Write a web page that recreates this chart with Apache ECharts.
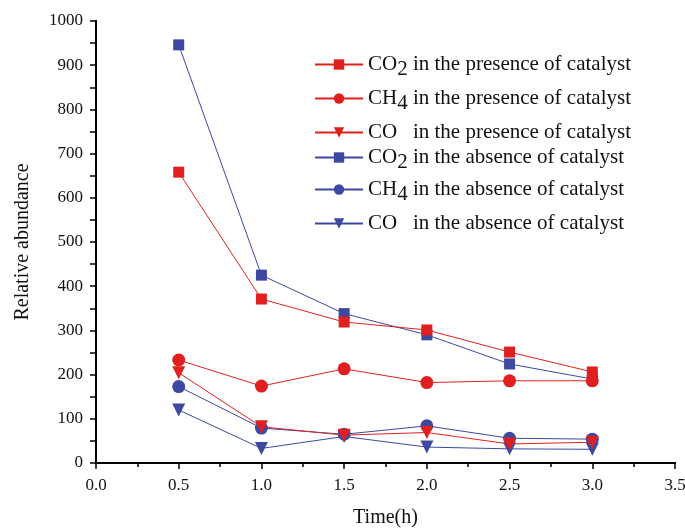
<!DOCTYPE html>
<html><head><meta charset="utf-8">
<script src="https://cdn.jsdelivr.net/npm/echarts@6/dist/echarts.min.js"></script>
<style>html,body{margin:0;padding:0;background:#fff}#c{width:685px;height:528px}</style>
</head><body><div id="c"></div>
<script>
const times = [0.5, 1.0, 1.5, 2.0, 2.5, 3.0];
const co2Present = [658, 371, 319, 301, 251, 206];
const ch4Present = [233, 174, 213, 182, 186, 186];
const coPresent = [204, 82, 63, 69, 43, 47];
const co2Absent = [946, 425, 338, 290, 224, 190];
const ch4Absent = [173, 79, 65, 84, 56, 54];
const coAbsent = [120, 33, 60, 36, 32, 31];
const seriesNames = [
  'CO{s|2} in the presence of catalyst',
  'CH{s|4} in the presence of catalyst',
  'CO   in the presence of catalyst',
  'CO{s|2} in the absence of catalyst',
  'CH{s|4} in the absence of catalyst',
  'CO   in the absence of catalyst'
];
const RED = '#e0201e', BLUE = '#3d48a0';
const FONT = 'Liberation Serif';
const defs = [
  {data: co2Present, color: RED, sym: 'rect', size: 11, rot: 0},
  {data: ch4Present, color: RED, sym: 'circle', size: 13, rot: 0},
  {data: coPresent, color: RED, sym: 'triangle', size: 13, rot: 180},
  {data: co2Absent, color: BLUE, sym: 'rect', size: 11, rot: 0},
  {data: ch4Absent, color: BLUE, sym: 'circle', size: 13, rot: 0},
  {data: coAbsent, color: BLUE, sym: 'triangle', size: 13, rot: 180}
];
const legendY = [49, 83, 117, 142, 174, 208];
const chart = echarts.init(document.getElementById('c'));
const series = defs.map((d, i) => ({
  name: seriesNames[i],
  type: 'line',
  data: times.map((t, j) => [t, d.data[j]]),
  symbol: d.sym, symbolSize: d.size, symbolRotate: d.rot,
  lineStyle: {color: d.color, width: 1},
  itemStyle: {color: d.color},
  xAxisIndex: 0, yAxisIndex: 0,
  animation: false, z: 10 - Math.floor(i / 3)
}));
const legends = seriesNames.map((n, i) => ({
  data: [n], left: 309, top: legendY[i], orient: 'vertical',
  itemWidth: 48, itemHeight: 13, itemGap: 0,
  textStyle: {fontFamily: FONT, fontSize: 21, color: '#111',
    rich: {s: {fontFamily: FONT, fontSize: 21, verticalAlign: 'bottom', padding: [10, 0, 0, 0]}}},
  selectedMode: false
}));
const axisCommon = {
  axisLine: {show: true, lineStyle: {color: '#000', width: 2}},
  splitLine: {show: false}
};
chart.setOption({
  animation: false,
  grid: {left: 96, right: 10, top: 21, bottom: 65, containLabel: false, outerBoundsMode: 'none'},
  legend: legends,
  xAxis: [
    Object.assign({type: 'value', min: 0, max: 3.5, interval: 0.5, position: 'bottom',
      name: 'Time(h)', nameLocation: 'middle', nameGap: 45,
      nameTextStyle: {fontFamily: FONT, fontSize: 20, color: '#111'},
      axisTick: {inside: false, length: 6, lineStyle: {width: 1.5, color: '#000'}},
      minorTick: {show: true, splitNumber: 2, length: 4, lineStyle: {color: '#000', width: 1.5}},
      axisLabel: {fontFamily: FONT, fontSize: 17, color: '#111', margin: 14,
        formatter: v => v.toFixed(1)}}, axisCommon),
    Object.assign({type: 'value', min: 0, max: 3.5, interval: 0.5, position: 'top',
      axisTick: {inside: true, length: 6, lineStyle: {width: 1.5, color: '#000'}},
      minorTick: {show: true, splitNumber: 2, length: 4, lineStyle: {color: '#000', width: 1.5}},
      axisLabel: {show: false}}, axisCommon)
  ],
  yAxis: [
    Object.assign({type: 'value', min: 0, max: 1000, interval: 100, position: 'left',
      name: 'Relative abundance', nameLocation: 'middle', nameGap: 63, nameRotate: 90,
      nameTextStyle: {fontFamily: FONT, fontSize: 20, color: '#111'},
      axisTick: {inside: false, length: 6, lineStyle: {width: 1.5, color: '#000'}},
      minorTick: {show: true, splitNumber: 2, length: 4, lineStyle: {color: '#000', width: 1.5}},
      axisLabel: {fontFamily: FONT, fontSize: 17, color: '#111', margin: 13,
        formatter: v => String(v)}}, axisCommon),
    Object.assign({type: 'value', min: 0, max: 1000, interval: 100, position: 'right',
      axisTick: {inside: true, length: 6, lineStyle: {width: 1.5, color: '#000'}},
      minorTick: {show: true, splitNumber: 2, length: 6, lineStyle: {color: '#000', width: 1.5}},
      axisLabel: {show: false}}, axisCommon)
  ],
  series: series
});
</script></body></html>
